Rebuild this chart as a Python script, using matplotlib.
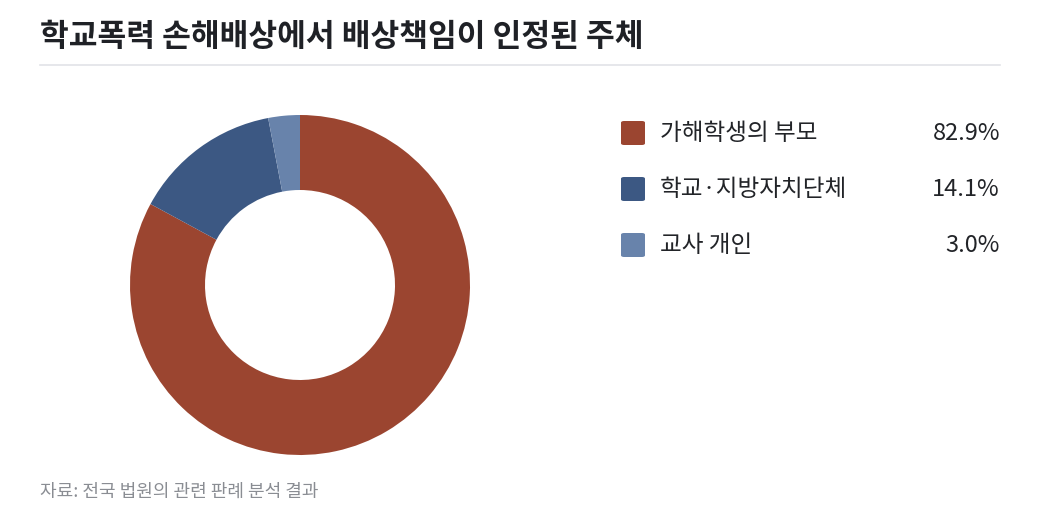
import matplotlib.pyplot as plt
from matplotlib.patches import FancyBboxPatch

plt.rcParams['font.family'] = ['Noto Sans CJK KR', 'DejaVu Sans']

title = '학교폭력 손해배상에서 배상책임이 인정된 주체'
labels = ['가해학생의 부모', '학교·지방자치단체', '교사 개인']
values = [82.9, 14.1, 3.0]
colors = ['#9b4530', '#3c5883', '#6883ab']
source = '자료: 전국 법원의 관련 판례 분석 결과'

W, H = 1040, 525
fig = plt.figure(figsize=(W / 100, H / 100), dpi=100)
fig.patch.set_facecolor('white')

# title + rule
fig.text(40 / W, 1 - 37 / H, title, fontsize=22.5, fontweight='bold',
         color='#1f2126', va='center', ha='left')
fig.add_artist(plt.Line2D([40 / W, 1000 / W], [1 - 65 / H, 1 - 65 / H],
                          color='#e1e3e8', lw=1.2))

# donut
ax = fig.add_axes([130 / W, 1 - 455 / H, 340 / W, 340 / H])
ax.pie(values, colors=colors, startangle=90, counterclock=False,
       radius=1, wedgeprops=dict(width=1 - 95 / 170, linewidth=0))
ax.set_aspect('equal')
ax.set_xlim(-1, 1)
ax.set_ylim(-1, 1)
ax.axis('off')

# legend
for i, (lab, val, col) in enumerate(zip(labels, values, colors)):
    yc = 133 + i * 56
    sq = FancyBboxPatch((621 / W, 1 - (yc + 12) / H), 24 / W, 24 / H,
                        boxstyle='round,pad=0,rounding_size=0.003',
                        transform=fig.transFigure, facecolor=col,
                        edgecolor='none')
    fig.add_artist(sq)
    fig.text(660 / W, 1 - yc / H, lab, fontsize=17, fontweight='medium',
             color='#222428', va='center', ha='left')
    fig.text(1000 / W, 1 - yc / H, f'{val:.1f}%', fontsize=17,
             fontweight='medium', color='#222428', va='center', ha='right')

fig.text(40 / W, 1 - 492 / H, source, fontsize=13, color='#8a8d93',
         va='center', ha='left')

fig.savefig('out.png', dpi=100)
